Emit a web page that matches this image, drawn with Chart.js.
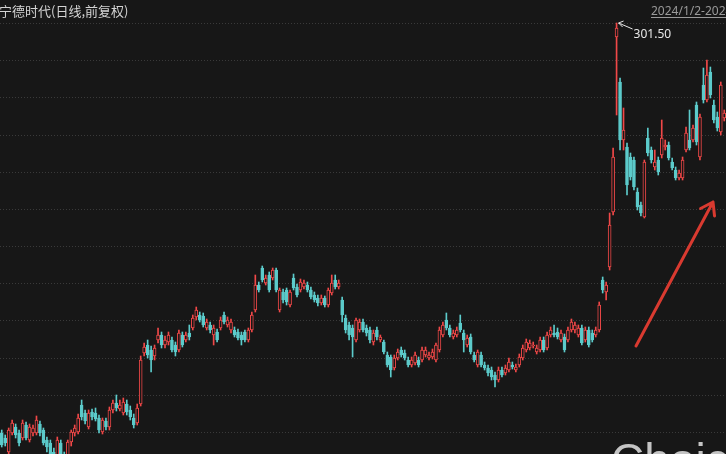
<!DOCTYPE html>
<html>
<head>
<meta charset="utf-8">
<script src="https://cdn.jsdelivr.net/npm/chart.js@4.4.0/dist/chart.umd.min.js"></script>
<style>
  html, body { margin: 0; padding: 0; background: #171717; overflow: hidden; }
  canvas { display: block; }
</style>
</head>
<body>
<canvas id="kline" width="726" height="454"></canvas>
<script>
// 宁德时代 日K (前复权) - rows: [day, open, high, low, close]
const jan = [
  [8, 137.5, 138.7, 131.9, 132.7], [9, 135.5, 136.7, 132.3, 133.5], [10, 129.9, 139.5, 128.7, 138.7],
  [11, 137.5, 142.7, 136.7, 141.5], [12, 139.9, 141.1, 135.5, 136.7], [15, 137.5, 138.7, 132.3, 133.5],
  [16, 135.5, 142.7, 134.7, 141.5], [17, 140.7, 141.9, 134.7, 135.5], [18, 134.7, 141.1, 133.9, 139.9],
  [19, 137.5, 140.7, 136.3, 139.5], [22, 137.5, 144.3, 136.7, 142.7], [23, 141.1, 142.3, 136.3, 137.5],
  [24, 138.7, 139.5, 132.7, 133.5], [25, 134.7, 135.9, 129.9, 131.9], [26, 133.5, 134.7, 125.9, 127.9],
  [29, 129.9, 131.5, 123.5, 125.9], [30, 127.5, 135.9, 125.9, 134.7], [31, 133.5, 134.7, 124.3, 126.7],
];
const feb = [
  [1, 127.5, 129.9, 121.9, 124.3], [2, 124.7, 134.7, 122.7, 133.9], [5, 133.9, 138.7, 132.3, 137.9],
  [6, 137.5, 140.7, 136.3, 139.5], [7, 137.9, 145.1, 137.1, 143.5], [8, 148.7, 150.7, 142.7, 143.9],
  [19, 145.5, 146.7, 141.1, 142.3], [20, 139.9, 146.7, 139.1, 145.5], [21, 145.9, 147.1, 142.7, 143.9],
  [22, 145.5, 147.5, 142.3, 143.1], [23, 143.5, 144.7, 137.5, 138.7], [26, 137.9, 143.5, 137.1, 142.7],
  [27, 142.3, 143.5, 138.7, 139.9], [28, 139.9, 147.9, 138.7, 146.7], [29, 146.7, 150.7, 145.5, 149.5],
];
const mar = [
  [1, 149.5, 152.7, 146.3, 147.5], [4, 147.1, 150.7, 146.3, 148.7], [5, 145.5, 151.5, 144.7, 149.9],
  [6, 149.1, 150.7, 144.7, 145.9], [7, 146.7, 148.3, 142.7, 143.9], [8, 143.5, 145.1, 139.5, 140.7],
  [11, 141.5, 149.1, 140.7, 147.5], [12, 149.1, 168.3, 148.3, 166.7], [13, 169.5, 173.5, 168.3, 171.9],
  [14, 172.7, 174.7, 167.5, 168.7], [15, 170.7, 172.3, 161.9, 166.7], [18, 168.3, 172.7, 166.7, 171.5],
  [19, 174.7, 179.5, 173.5, 176.7], [20, 176.7, 177.9, 171.5, 172.7], [21, 172.7, 176.3, 171.5, 174.7],
  [22, 173.9, 177.9, 172.7, 176.7], [25, 174.7, 175.9, 169.9, 170.7], [26, 172.7, 173.9, 168.3, 169.9],
  [27, 170.7, 178.7, 169.9, 177.5], [28, 176.7, 177.9, 171.9, 172.7], [29, 174.7, 177.9, 173.9, 176.7],
];
const apr = [
  [1, 177.5, 180.7, 174.7, 175.9], [2, 179.5, 184.7, 178.7, 183.5], [3, 183.9, 187.9, 182.7, 186.7],
  [8, 184.7, 185.9, 181.9, 182.7], [9, 184.3, 185.5, 179.9, 180.7], [10, 179.5, 183.1, 178.7, 181.9],
  [11, 180.7, 181.9, 177.5, 178.7], [12, 176.7, 180.7, 172.7, 179.5], [15, 177.9, 179.1, 173.9, 174.7],
  [16, 179.5, 183.9, 178.7, 182.7], [17, 184.7, 185.9, 181.1, 181.9], [18, 180.7, 183.9, 179.9, 182.7],
  [19, 178.7, 183.1, 177.5, 181.9], [22, 178.7, 179.9, 175.9, 176.7], [23, 177.9, 179.1, 174.7, 175.5],
  [24, 176.7, 177.9, 172.7, 174.7], [25, 177.9, 178.7, 173.9, 174.7], [26, 174.7, 179.5, 173.9, 178.7],
  [29, 178.7, 185.9, 177.9, 184.7], [30, 186.7, 200.7, 185.9, 196.7],
];
const may = [
  [6, 196.7, 197.9, 193.9, 194.7], [7, 203.5, 204.3, 197.9, 198.7], [8, 197.5, 200.7, 196.7, 199.5],
  [9, 200.7, 201.9, 193.9, 194.7], [10, 199.5, 203.5, 198.7, 202.7], [13, 202.7, 203.5, 193.9, 194.7],
  [14, 186.7, 195.5, 185.9, 194.7], [15, 193.9, 195.1, 189.5, 190.7], [16, 194.7, 195.5, 188.7, 189.9],
  [17, 188.7, 194.7, 187.9, 193.9], [20, 199.5, 201.1, 194.7, 195.5], [21, 195.9, 197.1, 191.9, 192.7],
  [22, 194.7, 199.1, 193.9, 197.9], [23, 195.9, 198.7, 195.1, 197.5], [24, 196.7, 197.9, 193.9, 194.7],
  [27, 194.7, 195.9, 191.1, 191.9], [28, 192.7, 193.9, 189.9, 190.7], [29, 191.5, 192.7, 188.3, 189.5],
  [30, 189.5, 192.7, 188.7, 191.5], [31, 191.5, 192.3, 187.9, 188.7],
];
const jun = [
  [3, 188.7, 195.5, 187.9, 194.7], [4, 193.5, 200.7, 192.7, 197.5], [5, 198.7, 200.7, 195.1, 195.9],
  [6, 195.9, 198.7, 195.1, 197.5], [7, 190.7, 191.9, 181.9, 184.7], [11, 183.5, 184.7, 177.5, 178.7],
  [12, 180.7, 181.9, 174.7, 176.7], [13, 179.5, 180.7, 167.9, 175.9], [14, 174.7, 183.5, 173.9, 182.7],
  [17, 178.7, 183.1, 177.9, 181.9], [18, 181.9, 183.1, 177.9, 178.7], [19, 179.5, 180.7, 176.3, 177.5],
  [20, 178.7, 179.9, 173.5, 174.7], [21, 173.9, 178.7, 172.7, 177.5], [24, 178.7, 179.9, 174.7, 175.9],
  [25, 174.7, 176.7, 173.9, 175.9], [26, 173.9, 174.7, 169.1, 169.9], [27, 168.7, 169.9, 163.9, 164.7],
  [28, 167.9, 168.7, 159.9, 162.7],
];
const jul = [
  [1, 163.5, 168.7, 162.7, 167.5], [2, 167.5, 171.1, 166.7, 169.9], [3, 170.7, 171.9, 167.9, 168.7],
  [4, 169.5, 170.7, 166.7, 167.5], [5, 166.7, 167.9, 163.9, 164.7], [8, 164.7, 167.9, 163.9, 166.7],
  [9, 165.5, 169.9, 164.7, 168.7], [10, 166.7, 167.9, 163.9, 164.7], [11, 166.7, 171.9, 165.9, 170.7],
  [12, 168.7, 171.9, 167.9, 170.7], [15, 167.5, 169.9, 166.7, 168.7], [16, 167.9, 171.1, 167.1, 169.9],
  [17, 166.7, 173.5, 165.9, 172.7], [18, 170.7, 179.9, 169.9, 178.7], [19, 176.7, 181.9, 175.9, 180.7],
  [22, 182.7, 185.5, 178.7, 179.5], [23, 179.5, 180.7, 175.9, 176.7], [24, 175.9, 178.7, 175.1, 177.5],
  [25, 176.7, 179.9, 175.9, 178.7], [26, 181.5, 184.7, 177.9, 178.7], [29, 177.5, 178.7, 169.9, 174.7],
  [30, 172.7, 176.7, 171.9, 175.5], [31, 175.9, 177.1, 169.1, 169.9],
];
const aug = [
  [1, 168.7, 169.9, 165.9, 166.7], [2, 164.7, 170.7, 163.9, 169.9], [5, 168.7, 169.9, 163.9, 164.7],
  [6, 164.7, 165.9, 162.7, 163.5], [7, 163.5, 164.7, 160.3, 161.5], [8, 162.7, 163.9, 158.7, 159.9],
  [9, 160.7, 161.9, 155.9, 158.7], [12, 158.7, 163.9, 157.9, 162.7], [13, 162.7, 163.9, 159.9, 160.7],
  [14, 161.5, 164.7, 160.7, 163.5], [15, 162.7, 167.5, 161.9, 165.9], [16, 164.7, 165.9, 163.1, 163.9],
  [19, 162.7, 165.1, 161.9, 163.9], [20, 164.7, 169.1, 163.9, 167.9], [21, 167.5, 172.7, 166.7, 171.5],
  [22, 170.7, 175.1, 169.9, 173.9], [23, 171.5, 174.7, 170.7, 173.5], [26, 172.3, 173.9, 171.5, 172.7],
  [27, 169.9, 172.7, 169.1, 171.5], [28, 170.7, 175.9, 169.9, 174.7], [29, 174.7, 175.9, 169.9, 170.7],
  [30, 171.5, 177.9, 170.7, 176.7],
];
const sep = [
  [2, 176.7, 179.9, 175.9, 178.7], [3, 177.5, 180.7, 175.9, 176.7], [4, 177.9, 179.5, 175.1, 175.9],
  [5, 174.7, 178.7, 173.9, 177.5], [6, 175.9, 177.1, 169.9, 170.7], [9, 174.7, 179.9, 173.9, 178.7],
  [10, 178.7, 183.1, 177.9, 181.9], [11, 178.7, 181.9, 177.5, 180.7], [12, 176.7, 180.7, 175.9, 179.5],
  [13, 179.5, 180.7, 172.7, 173.5], [18, 174.7, 179.9, 173.9, 178.7], [19, 178.7, 179.9, 171.9, 172.7],
  [20, 177.5, 178.7, 173.9, 174.7], [23, 176.7, 179.9, 175.9, 178.7], [24, 178.7, 189.9, 177.9, 188.7],
  [25, 198.7, 199.9, 193.5, 194.7], [26, 193.9, 197.9, 190.7, 196.7], [27, 203.9, 225.5, 202.7, 220.7],
  [30, 225.9, 251.5, 224.7, 247.9],
];
const oct = [
  [8, 295.9, 301.5, 264.7, 299.5], [9, 277.9, 279.5, 250.7, 254.7], [10, 254.7, 267.5, 250.7, 258.7],
  [11, 251.9, 253.5, 232.7, 236.7], [14, 247.9, 249.5, 238.7, 239.9], [15, 246.7, 247.9, 234.7, 235.9],
  [16, 233.9, 235.5, 226.7, 227.9], [17, 228.7, 229.9, 224.3, 225.5], [18, 223.9, 246.7, 223.5, 245.9],
  [21, 255.5, 259.5, 248.3, 249.5], [22, 250.7, 251.9, 245.5, 246.7], [23, 243.9, 250.7, 242.7, 245.9],
  [24, 246.7, 247.9, 240.7, 241.9], [25, 248.7, 262.7, 247.5, 255.5], [28, 251.9, 254.7, 250.7, 252.7],
  [29, 252.7, 253.9, 246.7, 247.5], [30, 245.9, 247.5, 242.7, 243.5], [31, 242.7, 243.9, 238.7, 239.5],
];
const nov = [
  [1, 239.5, 242.7, 238.7, 241.5], [4, 239.5, 247.9, 238.7, 246.7], [5, 250.7, 259.9, 249.9, 257.5],
  [6, 254.7, 266.7, 250.7, 251.5], [7, 254.7, 260.7, 253.9, 259.5], [8, 268.7, 269.9, 252.7, 253.9],
  [11, 247.9, 265.1, 246.7, 263.9], [12, 276.7, 283.5, 269.5, 270.7], [13, 270.7, 286.7, 269.9, 280.7],
  [14, 281.9, 283.9, 271.5, 272.7], [15, 268.7, 270.7, 261.5, 262.7], [18, 263.9, 265.9, 258.3, 259.5],
  [19, 257.9, 277.9, 256.7, 276.7], [20, 263.5, 266.7, 262.3, 265.5],
];

const months = [[1, jan], [2, feb], [3, mar], [4, apr], [5, may], [6, jun], [7, jul], [8, aug], [9, sep], [10, oct], [11, nov]];
const gridLevels = [301.3, 286.43, 271.56, 256.68, 241.81, 226.94, 212.07, 197.2, 182.32, 167.45, 152.58, 137.71];
const titleText = "宁德时代(日线,前复权)";
const rangeText = "2024/1/2-2024/11/20";
const watermark = "Choice";

const UP = "#f04848";
const DOWN = "#5ccbcb";
const BG = "#171717";

const labels = months.flatMap(([m, rows]) => rows.map((r) => `2024/${m}/${r[0]}`));
const candles = months.flatMap(([m, rows]) => rows);
const isUp = candles.map((r) => r[4] >= r[1]);

// highest high, gets the little arrow + number
let hiIdx = 0;
candles.forEach((r, i) => { if (r[2] > candles[hiIdx][2]) hiIdx = i; });

const overlay = {
  id: "overlay",
  afterDraw(chart) {
    const { ctx } = chart;
    const xs = chart.scales.x;
    const ys = chart.scales.y;
    ctx.save();

    // title top-left
    ctx.fillStyle = "#d4d4d4";
    ctx.font = '13px "Noto Sans CJK SC"';
    ctx.fillText(titleText, -1, 16);

    // date range top-right, underlined
    ctx.fillStyle = "#9a9a9a";
    ctx.font = '12px "Noto Sans"';
    ctx.fillText(rangeText, 651, 15);
    ctx.strokeStyle = "#9a9a9a";
    ctx.lineWidth = 1;
    ctx.beginPath();
    ctx.moveTo(651, 17.5);
    ctx.lineTo(726, 17.5);
    ctx.stroke();

    // max marker
    const px = xs.getPixelForValue(hiIdx);
    const py = ys.getPixelForValue(candles[hiIdx][2]);
    ctx.strokeStyle = "#e8e8e8";
    ctx.beginPath();
    ctx.moveTo(px + 16, py + 6);
    ctx.lineTo(px + 2, py);
    ctx.moveTo(px + 2, py);
    ctx.lineTo(px + 7, py - 2);
    ctx.moveTo(px + 2, py);
    ctx.lineTo(px + 6, py + 4);
    ctx.stroke();
    ctx.fillStyle = "#e8e8e8";
    ctx.font = '12px "Noto Sans"';
    ctx.fillText(candles[hiIdx][2].toFixed(2), px + 17, py + 15);

    // hand drawn red arrow
    const a0 = [636, 346], a1 = [713, 202];
    const ang = Math.atan2(a1[1] - a0[1], a1[0] - a0[0]);
    ctx.strokeStyle = "#d93a30";
    ctx.lineWidth = 3;
    ctx.lineCap = "round";
    ctx.beginPath();
    ctx.moveTo(a0[0], a0[1]);
    ctx.lineTo(a1[0], a1[1]);
    for (const d of [-0.6, 0.6]) {
      ctx.moveTo(a1[0], a1[1]);
      ctx.lineTo(a1[0] - 14 * Math.cos(ang + d), a1[1] - 14 * Math.sin(ang + d));
    }
    ctx.stroke();

    // watermark
    ctx.fillStyle = "rgba(215,215,215,0.9)";
    ctx.font = '46px "Liberation Sans"';
    ctx.fillText(watermark, 611, 476);

    ctx.restore();
  },
};

new Chart(document.getElementById("kline"), {
  type: "bar",
  data: {
    labels: labels,
    datasets: [
      {
        label: "body",
        data: candles.map((r) => [r[1], r[4]]),
        backgroundColor: isUp.map((u) => (u ? BG : DOWN)),
        borderColor: isUp.map((u) => (u ? UP : DOWN)),
        borderWidth: 1,
        borderSkipped: false,
        barThickness: 3,
        minBarLength: 1,
        grouped: false,
        order: 0,
      },
      {
        label: "wick",
        data: candles.map((r) => [r[3], r[2]]),
        backgroundColor: isUp.map((u) => (u ? UP : DOWN)),
        barThickness: 1,
        grouped: false,
        order: 1,
      },
    ],
  },
  options: {
    responsive: false,
    animation: false,
    devicePixelRatio: 1,
    layout: { padding: 0 },
    plugins: { legend: { display: false }, tooltip: { enabled: false } },
    scales: {
      x: { display: false, offset: true },
      y: {
        min: 129.1,
        max: 310.7,
        afterBuildTicks: (s) => { s.ticks = gridLevels.map((v) => ({ value: v })); },
        afterFit: (s) => { s.width = 0; },
        ticks: { display: false },
        grid: { color: "#3a3a3a", drawTicks: false },
        border: { display: false, dash: [1, 2] },
      },
    },
  },
  plugins: [overlay],
});
</script>
</body>
</html>
